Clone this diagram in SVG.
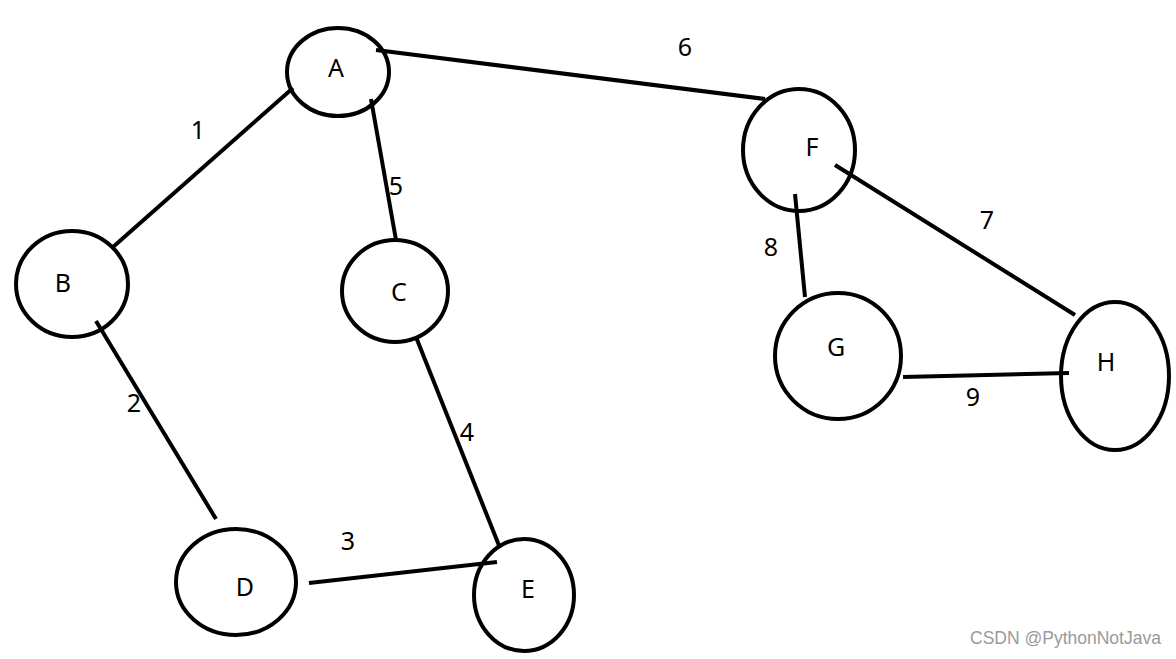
<svg xmlns="http://www.w3.org/2000/svg" width="1176" height="659" viewBox="0 0 1176 659">
<style>
.n{fill:none;stroke:#000;stroke-width:4}
.e{stroke:#000;stroke-width:4;stroke-linecap:butt;fill:none}
.t{font-family:"Noto Sans","Open Sans",sans-serif;font-size:25px;fill:#000;text-anchor:middle}
.w{font-family:"Liberation Sans",Arial,sans-serif;font-size:17.5px;fill:#9a9a9a}
</style>
<rect width="1176" height="659" fill="#fff"/>
<g id="edges">
<line class="e" x1="293" y1="88" x2="113" y2="247"/>
<line class="e" x1="371" y1="99" x2="396" y2="240"/>
<line class="e" x1="376" y1="50" x2="765" y2="99"/>
<line class="e" x1="96" y1="321" x2="216" y2="519"/>
<line class="e" x1="416" y1="337" x2="500" y2="548"/>
<line class="e" x1="309" y1="583" x2="497" y2="562"/>
<line class="e" x1="795" y1="194" x2="805" y2="297"/>
<line class="e" x1="835" y1="165" x2="1075" y2="315"/>
<line class="e" x1="903" y1="377" x2="1069" y2="373"/>
<text class="t" x="198" y="139">1</text>
<text class="t" x="134" y="412">2</text>
<text class="t" x="348" y="550">3</text>
<text class="t" x="467" y="441">4</text>
<text class="t" x="396" y="195">5</text>
<text class="t" x="685" y="56">6</text>
<text class="t" x="987" y="229">7</text>
<text class="t" x="771" y="256">8</text>
<text class="t" x="973" y="406">9</text>
</g>
<g id="A"><ellipse class="n" cx="338" cy="72" rx="51" ry="44"/><text class="t" x="336" y="77">A</text></g>
<g id="B"><ellipse class="n" cx="72" cy="284" rx="56" ry="53"/><text class="t" x="63" y="292">B</text></g>
<g id="C"><ellipse class="n" cx="395" cy="291" rx="53" ry="51"/><text class="t" x="399" y="301">C</text></g>
<g id="D"><ellipse class="n" cx="236" cy="582" rx="60" ry="53"/><text class="t" x="245" y="596">D</text></g>
<g id="E"><ellipse class="n" cx="524" cy="595" rx="50" ry="56"/><text class="t" x="528" y="598">E</text></g>
<g id="F"><ellipse class="n" cx="799" cy="150" rx="56" ry="61"/><text class="t" x="812" y="156">F</text></g>
<g id="G"><ellipse class="n" cx="838" cy="356" rx="63" ry="63"/><text class="t" x="836" y="356">G</text></g>
<g id="H"><ellipse class="n" cx="1115" cy="376" rx="54" ry="74"/><text class="t" x="1106" y="371">H</text></g>
<text class="w" x="970" y="644">CSDN @PythonNotJava</text>
</svg>
